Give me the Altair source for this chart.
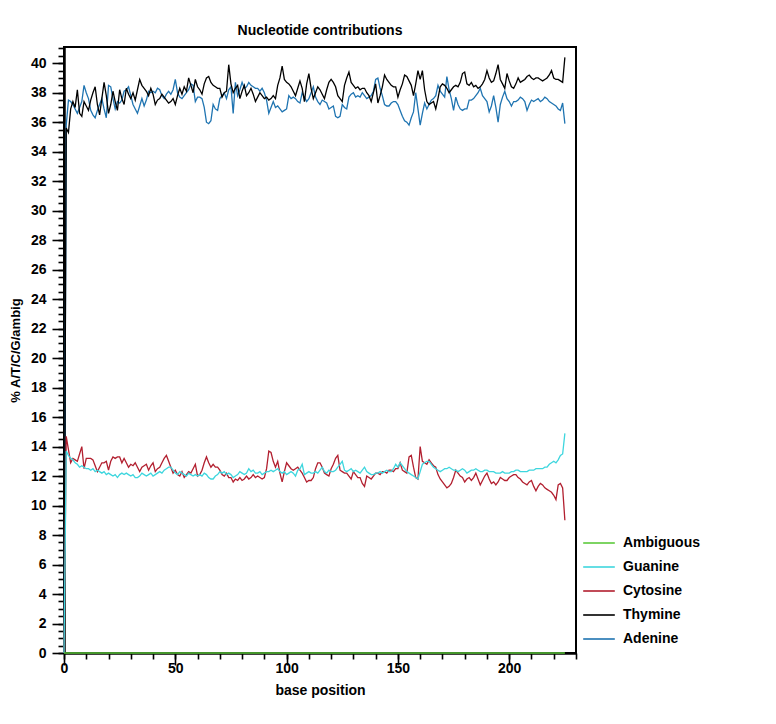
import altair as alt
import pandas as pd

positions = list(range(226))

thymine = [
    0.0, 35.6, 35.3, 36.9, 37.4, 37.0, 38.2, 36.6, 36.4, 37.4,
    37.1, 36.8, 37.5, 38.0, 38.4, 37.2, 36.5, 37.6, 38.7, 37.8,
    36.6, 37.2, 38.1, 37.4, 36.8, 38.2, 37.6, 37.2, 38.3, 37.9,
    37.6, 38.0, 37.5, 38.2, 38.9, 38.5, 38.3, 38.1, 37.8, 38.3,
    37.9, 37.2, 37.5, 37.6, 37.9, 37.7, 37.5, 37.3, 37.4, 37.6,
    37.2, 37.8, 38.3, 37.9, 38.4, 38.1, 39.0, 38.5, 38.0, 38.9,
    38.4, 38.2, 37.9, 38.6, 39.0, 39.1, 38.7, 38.5, 38.4, 38.3,
    38.3, 37.7, 38.0, 38.1, 39.9, 38.6, 38.0, 38.3, 38.5, 37.6,
    38.1, 38.5, 37.8, 38.0, 38.3, 37.9, 37.4, 37.7, 38.0, 37.8,
    37.6, 37.7, 37.5, 37.6, 37.8, 37.6, 38.5, 39.0, 39.8, 38.9,
    38.7, 38.6, 38.4, 38.1, 37.8, 38.3, 38.8, 38.3, 37.4, 38.6,
    39.3, 38.3, 37.6, 38.0, 38.4, 38.2, 37.9, 37.6, 38.2, 38.7,
    38.9, 38.7, 38.4, 37.8, 37.6, 37.4, 38.5, 39.0, 39.4, 38.7,
    38.5, 38.3, 38.4, 38.2, 38.3, 38.3, 38.0, 37.8, 37.4, 38.0,
    38.6, 37.3, 37.8, 38.4, 39.2, 38.9, 38.7, 38.5, 38.4, 38.4,
    37.7, 38.2, 38.6, 39.2, 39.1, 38.8, 38.5, 37.8, 38.6, 39.5,
    38.9, 39.5, 38.2, 37.4, 37.2, 37.3, 37.4, 36.9, 37.6, 38.4,
    38.6, 38.5, 38.3, 38.0, 38.2, 38.4, 38.5, 38.4, 38.7, 39.3,
    39.4, 38.6, 38.5, 38.7, 38.4, 38.5, 38.3, 38.4, 38.6, 38.9,
    39.5, 39.0, 38.7, 38.8, 39.3, 39.9, 38.9, 38.6, 38.3, 39.3,
    38.8, 38.4, 38.3, 38.6, 39.0, 38.7, 38.8, 38.9, 39.1, 39.2,
    39.0, 38.9, 39.0, 39.0, 38.9, 38.8, 38.9, 39.0, 39.2, 39.5,
    39.0, 38.9, 38.9, 38.8, 38.7, 40.4,
]

adenine = [
    0.0, 35.8, 37.5, 37.4, 37.2, 36.9, 36.6, 37.0, 37.4, 38.5,
    38.0, 37.6, 36.8, 36.5, 36.3, 36.8, 37.2, 37.6, 36.9, 36.3,
    38.5, 38.4, 37.6, 36.9, 37.4, 37.3, 37.5, 38.1, 38.2, 38.4,
    37.8, 37.2, 36.9, 36.6, 37.1, 37.6, 37.1, 37.5, 38.1, 38.0,
    38.1, 38.0, 38.3, 38.2, 37.8, 37.6, 37.9, 38.1, 37.9, 38.2,
    38.9, 38.0, 37.7, 37.6, 37.8, 38.0, 38.2, 38.6, 38.5, 37.4,
    37.7, 37.7, 37.6, 37.0, 36.0, 35.9, 36.1, 37.2, 36.9, 36.8,
    37.6, 37.8, 38.0, 37.6, 38.2, 38.4, 36.6, 38.7, 37.8, 38.2,
    38.7, 38.3, 38.4, 38.7, 38.5, 38.4, 38.3, 38.3, 38.1, 38.3,
    38.0, 37.5, 36.6, 37.0, 37.4, 37.0, 37.1, 36.9, 36.7, 36.8,
    36.9, 37.8, 37.6, 37.7, 37.6, 37.4, 37.3, 38.0, 37.7, 37.4,
    37.6, 38.0, 38.4, 37.7, 37.4, 37.2, 37.5, 37.4, 37.3, 36.9,
    37.0, 37.1, 36.4, 36.3, 36.4, 37.2, 37.0, 36.9, 37.7, 37.9,
    38.0, 37.7, 37.8, 37.7, 38.0, 37.8, 37.6, 37.7, 37.8, 38.1,
    38.9, 39.0, 38.3, 37.8, 37.2, 37.1, 37.1, 37.3, 37.4, 37.4,
    37.2, 36.8, 36.4, 36.1, 36.0, 35.8, 36.3, 36.7, 38.0, 36.9,
    35.8, 36.6, 37.3, 36.9, 37.2, 37.5, 37.6, 37.8, 38.5, 38.1,
    37.9, 37.7, 39.1, 38.2, 37.6, 36.8, 37.7, 37.2, 36.9, 36.8,
    36.9, 36.9, 37.5, 37.5, 37.6, 37.8, 38.0, 38.3, 37.8, 37.6,
    37.4, 36.7, 37.1, 37.8, 37.0, 36.0, 37.2, 37.7, 38.1, 37.6,
    37.4, 37.1, 37.4, 37.4, 37.5, 37.7, 37.6, 37.4, 36.8, 37.2,
    37.5, 37.4, 37.5, 37.6, 37.4, 37.5, 37.7, 37.6, 37.4, 37.3,
    37.2, 37.1, 36.9, 36.8, 37.3, 35.9,
]

cytosine = [
    0.0, 14.7, 13.8, 12.9, 13.2, 13.1, 13.0, 13.5, 14.0, 12.5,
    13.2, 13.2, 13.2, 13.1, 12.7, 12.3, 12.6, 12.9, 12.9, 13.0,
    12.4, 13.0, 13.3, 13.2, 13.3, 13.3, 12.9, 13.2, 12.9, 12.6,
    12.8, 12.7, 12.9, 12.6, 12.3, 12.6, 12.7, 12.8, 12.4, 12.7,
    12.9, 12.3, 12.5, 12.6, 12.9, 13.2, 13.4, 13.0, 12.6, 12.2,
    12.4, 12.1, 12.0, 12.3, 11.9, 12.1, 12.3, 12.2, 12.5, 12.8,
    12.0, 12.1, 12.4, 12.9, 13.3, 12.9, 12.6, 12.8, 12.6, 12.6,
    12.4, 12.1, 12.0, 12.2, 11.9, 11.9, 11.6, 11.8, 11.7, 11.9,
    11.7, 11.8, 12.0, 11.8, 11.9, 12.1, 11.9, 12.0, 11.9, 11.8,
    11.9, 12.5, 13.7, 13.6, 13.0, 12.6, 13.0, 12.2, 11.6, 12.3,
    12.9, 12.7, 12.5, 12.4, 12.5, 12.6, 12.4, 12.2, 11.9, 11.6,
    11.7, 11.7, 11.9, 12.5, 12.9, 12.9, 12.6, 12.2, 12.1, 12.0,
    12.5, 12.8, 13.2, 13.4, 12.4, 12.3, 12.2, 12.2, 12.0, 11.8,
    12.3, 12.1, 11.9, 11.9, 11.5, 11.3, 12.0, 11.9, 11.8, 12.0,
    12.2, 12.2, 12.1, 12.3, 12.3, 12.2, 12.4, 12.4, 12.3, 12.5,
    12.5, 12.9, 12.4, 12.3, 12.2, 13.3, 13.4, 12.6, 11.9, 11.8,
    14.0, 13.0, 12.9, 12.8, 13.1, 12.9, 12.7, 12.6, 12.1, 11.8,
    11.6, 11.4, 11.2, 11.3, 11.5, 11.9, 12.4, 12.2, 12.0, 11.9,
    11.6, 11.8, 11.9, 11.7, 11.9, 12.2, 11.8, 11.4, 11.7, 12.0,
    12.2, 11.8, 11.5, 11.6, 11.4, 11.6, 11.9, 11.8, 11.7, 11.7,
    11.9, 12.0, 12.1, 12.1, 11.9, 11.8, 11.6, 11.5, 11.4, 11.6,
    11.7, 11.3, 11.0, 11.3, 11.5, 11.4, 11.2, 11.1, 11.0, 10.9,
    10.7, 10.4, 11.4, 11.5, 11.2, 9.0,
]

guanine = [
    0.0, 13.7, 13.4, 13.2, 13.1, 12.9, 12.8, 12.6, 12.7, 12.6,
    12.5, 12.5, 12.4, 12.5, 12.3, 12.4, 12.3, 12.2, 12.3, 12.1,
    12.2, 12.1, 12.0, 12.1, 11.9, 12.1, 12.2, 12.1, 12.2, 12.1,
    12.0, 12.1, 11.9, 11.9, 12.0, 12.2, 12.1, 12.0, 12.1, 12.2,
    12.0, 12.1, 12.2, 12.3, 12.2, 12.4, 12.5, 12.6, 12.6, 12.4,
    12.2, 12.1, 12.3, 12.2, 12.1, 12.0, 12.2, 12.1, 12.0, 12.1,
    12.0, 12.1, 12.0, 12.2, 12.1, 11.9, 11.8, 11.8, 12.0, 12.1,
    12.3, 12.2, 12.3, 12.1, 12.2, 12.1, 11.9, 12.0, 12.1, 12.3,
    12.2, 12.1, 12.2, 12.5, 12.3, 12.4, 12.2, 12.2, 12.3, 12.1,
    12.2, 12.3, 12.3, 12.4, 12.3, 12.4, 12.5, 12.3, 12.2, 12.3,
    12.1, 12.2, 12.3, 12.2, 12.0, 12.4, 12.5, 12.8, 12.1, 12.2,
    12.3, 12.2, 12.2, 12.3, 12.2, 12.4, 12.6, 12.3, 12.2, 12.4,
    12.3, 12.3, 12.4, 12.6, 12.8, 13.0, 12.4, 12.3, 12.4, 12.5,
    12.3, 12.4, 12.3, 12.2, 12.4, 12.6, 12.3, 12.2, 12.1, 12.1,
    12.2, 12.2, 12.3, 12.2, 12.3, 12.4, 12.3, 12.3, 12.5, 12.8,
    12.6, 12.9, 12.7, 12.5, 12.3, 12.2, 12.1, 12.0, 11.9, 11.8,
    12.3, 12.8, 12.9, 13.0, 13.0, 12.8, 12.6, 12.5, 12.4, 12.3,
    12.4, 12.5, 12.5, 12.6, 12.5, 12.4, 12.4, 12.3, 12.4, 12.5,
    12.4, 12.2, 12.3, 12.4, 12.4, 12.5, 12.4, 12.3, 12.3, 12.4,
    12.4, 12.3, 12.3, 12.3, 12.2, 12.2, 12.2, 12.3, 12.2, 12.2,
    12.2, 12.3, 12.3, 12.4, 12.4, 12.3, 12.3, 12.3, 12.3, 12.4,
    12.4, 12.4, 12.5, 12.5, 12.5, 12.5, 12.6, 12.6, 12.8, 12.9,
    13.0, 12.9, 13.1, 13.4, 13.5, 14.9,
]

ambiguous = [
    0.0, 0.0, 0.0, 0.0, 0.0, 0.0, 0.0, 0.0, 0.0, 0.0,
    0.0, 0.0, 0.0, 0.0, 0.0, 0.0, 0.0, 0.0, 0.0, 0.0,
    0.0, 0.0, 0.0, 0.0, 0.0, 0.0, 0.0, 0.0, 0.0, 0.0,
    0.0, 0.0, 0.0, 0.0, 0.0, 0.0, 0.0, 0.0, 0.0, 0.0,
    0.0, 0.0, 0.0, 0.0, 0.0, 0.0, 0.0, 0.0, 0.0, 0.0,
    0.0, 0.0, 0.0, 0.0, 0.0, 0.0, 0.0, 0.0, 0.0, 0.0,
    0.0, 0.0, 0.0, 0.0, 0.0, 0.0, 0.0, 0.0, 0.0, 0.0,
    0.0, 0.0, 0.0, 0.0, 0.0, 0.0, 0.0, 0.0, 0.0, 0.0,
    0.0, 0.0, 0.0, 0.0, 0.0, 0.0, 0.0, 0.0, 0.0, 0.0,
    0.0, 0.0, 0.0, 0.0, 0.0, 0.0, 0.0, 0.0, 0.0, 0.0,
    0.0, 0.0, 0.0, 0.0, 0.0, 0.0, 0.0, 0.0, 0.0, 0.0,
    0.0, 0.0, 0.0, 0.0, 0.0, 0.0, 0.0, 0.0, 0.0, 0.0,
    0.0, 0.0, 0.0, 0.0, 0.0, 0.0, 0.0, 0.0, 0.0, 0.0,
    0.0, 0.0, 0.0, 0.0, 0.0, 0.0, 0.0, 0.0, 0.0, 0.0,
    0.0, 0.0, 0.0, 0.0, 0.0, 0.0, 0.0, 0.0, 0.0, 0.0,
    0.0, 0.0, 0.0, 0.0, 0.0, 0.0, 0.0, 0.0, 0.0, 0.0,
    0.0, 0.0, 0.0, 0.0, 0.0, 0.0, 0.0, 0.0, 0.0, 0.0,
    0.0, 0.0, 0.0, 0.0, 0.0, 0.0, 0.0, 0.0, 0.0, 0.0,
    0.0, 0.0, 0.0, 0.0, 0.0, 0.0, 0.0, 0.0, 0.0, 0.0,
    0.0, 0.0, 0.0, 0.0, 0.0, 0.0, 0.0, 0.0, 0.0, 0.0,
    0.0, 0.0, 0.0, 0.0, 0.0, 0.0, 0.0, 0.0, 0.0, 0.0,
    0.0, 0.0, 0.0, 0.0, 0.0, 0.0, 0.0, 0.0, 0.0, 0.0,
    0.0, 0.0, 0.0, 0.0, 0.0, 0.0,
]

legend_order = ["Ambiguous", "Guanine", "Cytosine", "Thymine", "Adenine"]
legend_colors = ["#5cc93b", "#3ed6de", "#b21f2f", "#000000", "#1f74b1"]
draw_order = ["Adenine", "Thymine", "Cytosine", "Guanine", "Ambiguous"]
series_values = {
    "Adenine": adenine,
    "Thymine": thymine,
    "Cytosine": cytosine,
    "Guanine": guanine,
    "Ambiguous": ambiguous,
}

x_major = [0, 50, 100, 150, 200]
x_minor = list(range(0, 231, 10))
y_major = list(range(0, 42, 2))
y_minor = [v / 2 for v in range(0, 83)]

frames = []
for k, name in enumerate(draw_order):
    frames.append(pd.DataFrame({"pos": positions, "pct": series_values[name],
                                "series": name, "z": k}))
df = pd.concat(frames, ignore_index=True)

FONT = "Liberation Sans"
x_scale = alt.Scale(domain=[0, 230], nice=False, zero=False)
y_scale = alt.Scale(domain=[0, 41.1], nice=False, zero=False)
color_scale = alt.Scale(domain=legend_order, range=legend_colors)

x_axis = alt.Axis(values=x_major, title="base position", orient="bottom",
                  tickSize=12, tickWidth=1.6, labelPadding=-4,
                  labelFontSize=14, labelFontWeight="bold", labelColor="black",
                  titleFontSize=14, titleFontWeight="bold", titleColor="black",
                  titlePadding=8, domainWidth=2.5, domainColor="black",
                  tickColor="black", grid=False, labelFlush=False)
y_axis = alt.Axis(values=y_major, title="% A/T/C/G/ambig", orient="left",
                  tickSize=12, tickWidth=1.6, labelPadding=6,
                  labelFontSize=14, labelFontWeight="bold", labelColor="black",
                  titleFontSize=13, titleFontWeight="bold", titleColor="black",
                  titlePadding=8, domainWidth=2.5, domainColor="black",
                  tickColor="black", grid=False, labelFlush=False)

legend = alt.Legend(title=None, orient="none", legendX=518, legendY=479,
                    symbolType="stroke", symbolSize=1000, symbolStrokeWidth=1.6,
                    labelFontSize=14, labelFontWeight="bold", labelColor="black",
                    labelFont=FONT, labelOffset=7, rowPadding=0, padding=0)

layers = []
for name in draw_order:
    layers.append(
        alt.Chart(df).transform_filter(alt.datum.series == name).mark_line(
            strokeWidth=1.3, clip=False
        ).encode(
            x=alt.X("pos:Q", scale=x_scale, axis=x_axis),
            y=alt.Y("pct:Q", scale=y_scale, axis=y_axis),
            color=alt.Color("series:N", scale=color_scale, legend=legend),
        )
    )
lines = alt.layer(*layers)

minor = alt.Chart(pd.DataFrame({"pos": [0], "pct": [0]})).mark_point(opacity=0).encode(
    x=alt.X("pos:Q", scale=x_scale,
            axis=alt.Axis(values=x_minor, orient="bottom", labels=False, title=None,
                          domain=False, tickSize=6, tickWidth=1.6, tickColor="black",
                          grid=False)),
    y=alt.Y("pct:Q", scale=y_scale,
            axis=alt.Axis(values=y_minor, orient="left", labels=False, title=None,
                          domain=False, tickSize=6, tickWidth=1.6, tickColor="black",
                          grid=False)),
)

chart = alt.layer(lines, minor).resolve_axis(x="independent", y="independent").properties(
    width=512,
    height=606,
    title=alt.TitleParams("Nucleotide contributions", fontSize=14, fontWeight="bold",
                          font=FONT, color="black", anchor="middle", offset=9),
    autosize=alt.AutoSizeParams(type="none"),
    padding={"left": 56, "top": 39, "right": 190, "bottom": 60},
).configure(font=FONT).configure_view(
    stroke="black", strokeWidth=2
).configure_axis(labelFont=FONT, titleFont=FONT)

chart.save("out.html", embed_options={"renderer": "svg", "actions": False})
